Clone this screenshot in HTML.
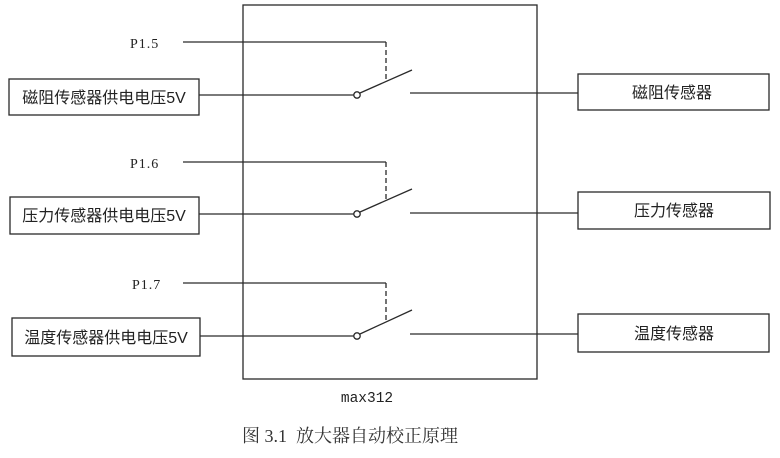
<!DOCTYPE html>
<html><head><meta charset="utf-8"><style>
html,body{margin:0;padding:0;background:#fff;}
svg{display:block;}
.cj{font-family:"Liberation Sans","WenQuanYi Zen Hei","Noto Sans CJK SC",sans-serif;font-size:16px;fill:#222;}
.p{font-family:"Liberation Serif",serif;font-size:14px;fill:#222;letter-spacing:1px;}
</style></head><body>
<svg width="780" height="458" viewBox="0 0 780 458" xmlns="http://www.w3.org/2000/svg">
<g stroke="#2a2a2a" stroke-width="1.3" fill="none">
<rect x="243" y="5" width="294" height="374"/>
<!-- row1 -->
<rect x="9" y="79" width="190" height="36"/>
<rect x="578" y="74" width="191" height="36"/>
<line x1="183" y1="42" x2="386" y2="42"/>
<line x1="386" y1="42" x2="386" y2="82" stroke-dasharray="5,3"/>
<line x1="199" y1="95" x2="354" y2="95"/>
<circle cx="357" cy="95" r="3.2" fill="#fff"/>
<line x1="360" y1="93" x2="412" y2="70"/>
<line x1="410" y1="93" x2="578" y2="93"/>
<!-- row2 -->
<rect x="10" y="197" width="189" height="37"/>
<rect x="578" y="192" width="192" height="37"/>
<line x1="183" y1="162" x2="386" y2="162"/>
<line x1="386" y1="162" x2="386" y2="201" stroke-dasharray="5,3"/>
<line x1="199" y1="214" x2="354" y2="214"/>
<circle cx="357" cy="214" r="3.2" fill="#fff"/>
<line x1="360" y1="212" x2="412" y2="189"/>
<line x1="410" y1="213" x2="578" y2="213"/>
<!-- row3 -->
<rect x="12" y="318" width="188" height="38"/>
<rect x="578" y="314" width="191" height="38"/>
<line x1="183" y1="283" x2="386" y2="283"/>
<line x1="386" y1="283" x2="386" y2="322" stroke-dasharray="5,3"/>
<line x1="200" y1="336" x2="354" y2="336"/>
<circle cx="357" cy="336" r="3.2" fill="#fff"/>
<line x1="360" y1="334" x2="412" y2="310"/>
<line x1="410" y1="334" x2="578" y2="334"/>
</g>
<text class="p" x="130" y="48">P1.5</text>
<text class="p" x="130" y="168">P1.6</text>
<text class="p" x="132" y="289">P1.7</text>
<text class="cj" x="104" y="103" text-anchor="middle">磁阻传感器供电电压5V</text>
<text class="cj" x="104" y="221" text-anchor="middle">压力传感器供电电压5V</text>
<text class="cj" x="106" y="343" text-anchor="middle">温度传感器供电电压5V</text>
<text class="cj" x="672" y="98" text-anchor="middle">磁阻传感器</text>
<text class="cj" x="674" y="216" text-anchor="middle">压力传感器</text>
<text class="cj" x="674" y="339" text-anchor="middle">温度传感器</text>
<text x="367" y="402" text-anchor="middle" style="font-family:'Liberation Mono',monospace;font-size:14.5px;fill:#222;">max312</text>
<text x="350" y="442" text-anchor="middle" style="font-family:'Liberation Serif','Noto Serif CJK SC',serif;font-size:18px;fill:#333;white-space:pre;">图 3.1  放大器自动校正原理</text>
</svg>
</body></html>
